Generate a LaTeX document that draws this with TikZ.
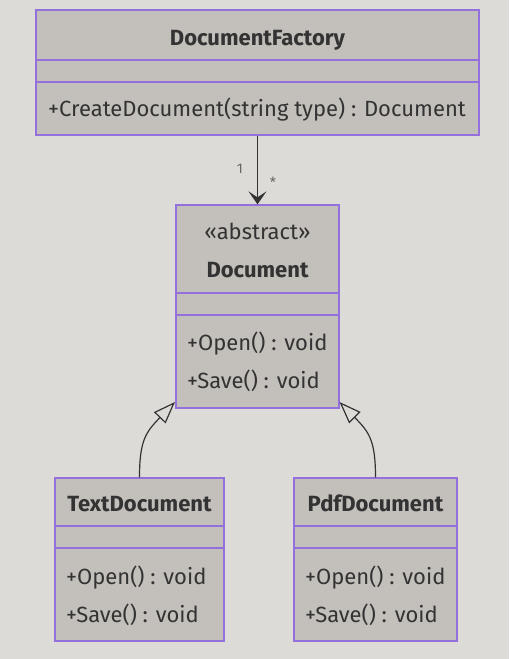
\documentclass[tikz,border=0pt]{standalone}
\usepackage{fontspec}
\setmainfont{Fira Sans}
\usetikzlibrary{arrows.meta}
\definecolor{bgc}{RGB}{221,219,215}
\definecolor{boxc}{RGB}{195,191,186}
\definecolor{linec}{RGB}{147,112,219}
\definecolor{txtc}{RGB}{51,51,51}
\tikzset{
  classbox/.style={draw=linec, fill=boxc, line width=1.3pt, inner sep=0pt, minimum width=#1},
  sep/.style={draw=linec, line width=1.3pt},
  ttl/.style={text=txtc, font=\fontsize{22}{24}\selectfont\bfseries, anchor=base, inner sep=0pt},
  ster/.style={text=txtc, font=\fontsize{22}{24}\selectfont, anchor=base, inner sep=0pt},
  mem/.style={text=txtc, font=\fontsize{22}{24}\selectfont, anchor=base west, inner sep=0pt},
  mult/.style={text=txtc!75, font=\fontsize{14}{15}\selectfont, inner sep=0pt},
  assoc/.style={draw=txtc, line width=1.5pt, -{Stealth[length=13pt,width=18pt,inset=6pt]}},
  inh/.style={draw=txtc, line width=1.2pt, -{Triangle[open,length=22pt,width=16pt,fill=bgc]}}
}
\begin{document}
\begin{tikzpicture}[x=1pt,y=-1pt]
\fill[bgc] (0,0) rectangle (509,659);
\useasboundingbox (0,0) rectangle (509,659);
% DocumentFactory
\node[classbox=443pt, minimum height=125pt] (fac) at (257.5,72.5) {};
\draw[sep] (36,60) -- (479,60);
\draw[sep] (36,82) -- (479,82);
\node[ttl] (facT) at (257.5,45) {DocumentFactory};
\node[mem] (facM) at (48,116) {+CreateDocument(string type) : Document};
% Document
\node[classbox=163pt, minimum height=203pt] (doc) at (257.5,306.5) {};
\draw[sep] (176,293) -- (339,293);
\draw[sep] (176,315) -- (339,315);
\node[ster] (docS) at (257.5,239) {«abstract»};
\node[ttl] (docT) at (257.5,277) {Document};
\node[mem] (docM1) at (187,350) {+Open() : void};
\node[mem] (docM2) at (187,388) {+Save() : void};
% TextDocument
\node[classbox=169pt, minimum height=163pt] (txt) at (139.5,559.5) {};
\draw[sep] (55,526) -- (224,526);
\draw[sep] (55,548) -- (224,548);
\node[ttl] (txtT) at (139.5,511) {TextDocument};
\node[mem] (txtM1) at (66,584) {+Open() : void};
\node[mem] (txtM2) at (66,622) {+Save() : void};
% PdfDocument
\node[classbox=163pt, minimum height=163pt] (pdf) at (375.5,559.5) {};
\draw[sep] (294,526) -- (457,526);
\draw[sep] (294,548) -- (457,548);
\node[ttl] (pdfT) at (375.5,511) {PdfDocument};
\node[mem] (pdfM1) at (305,584) {+Open() : void};
\node[mem] (pdfM2) at (305,622) {+Save() : void};
% association
\draw[assoc] (fac.south) -- (doc.north);
\node[mult] (m1) at (240,169) {1};
\node[mult] (m2) at (273,182) {*};
% inheritance
\coordinate (tipL) at (175,402);
\coordinate (tipR) at (339.5,402);
\draw[inh] (txt.north) .. controls (139.5,440) and (146,432) .. (tipL);
\draw[inh] (pdf.north) .. controls (375.5,440) and (369,432) .. (tipR);
\end{tikzpicture}
\end{document}
